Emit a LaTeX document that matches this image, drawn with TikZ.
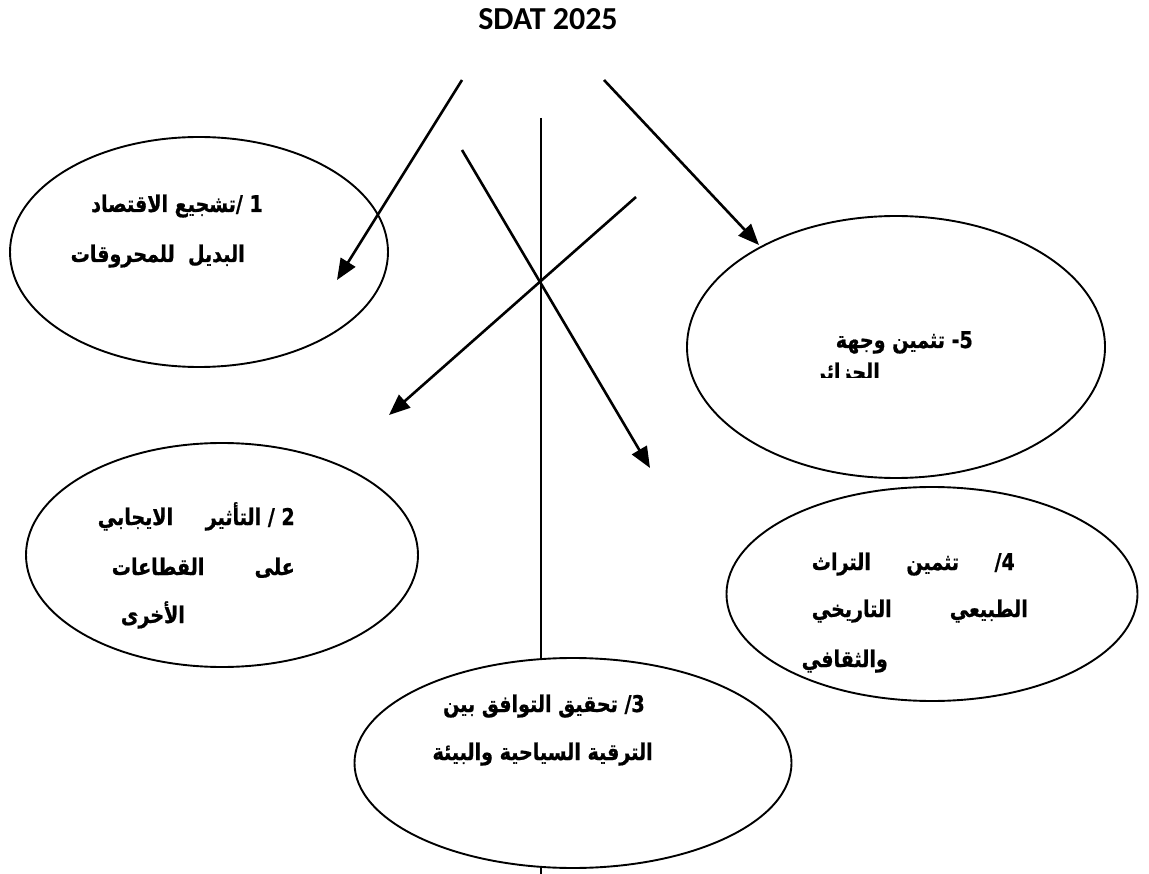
\documentclass[tikz,border=0pt]{standalone}
\usepackage{fontspec}
\usepackage{tikz}
\usetikzlibrary{shapes.geometric,arrows.meta}
\TeXXeTstate=1
\newfontfamily\arabicfont[Script=Arabic,FakeStretch=0.83,BoldFeatures={FakeBold=0.8}]{DejaVu Sans}
\newfontfamily\titlefont{Carlito}
\newcommand\brk{\kern0pt}
\tikzset{
    goal/.style={ellipse, draw, line width=1.9pt, fill=white, inner sep=0pt},
    arline/.style={anchor=base east, inner sep=0pt, font=\arabicfont\bfseries\fontsize{23}{26}\selectfont},
    link/.style={line width=2.6pt, -{Triangle[length=21pt,width=17pt]}},
}

\begin{document}
\begin{tikzpicture}[x=1pt,y=-1pt]
    \useasboundingbox (0,0) rectangle (1149,874);
    \node [anchor=base, inner sep=0pt, font=\titlefont\bfseries\fontsize{32}{36}\selectfont] (title) at (548,30) {SDAT 2025};
    \coordinate (axtop) at (541,118);
    \coordinate (axbot) at (541,874);
    \draw [line width=1.7pt] (axtop) -- (axbot);
    \node [goal, minimum width=378pt, minimum height=230pt] (e1) at (199,252) {};
    \node [goal, minimum width=418pt, minimum height=262pt] (e5) at (896,347) {};
    \node [goal, minimum width=392pt, minimum height=224pt] (e2) at (222,555) {};
    \node [goal, minimum width=411pt, minimum height=214pt] (e4) at (932,594) {};
    \node [goal, minimum width=437pt, minimum height=210pt] (e3) at (573,763) {};
    \coordinate (a1s) at (462,80);
    \coordinate (a1e) at (337,280);
    \coordinate (a2s) at (604,80);
    \coordinate (a2e) at (759,245);
    \coordinate (a3s) at (462,150);
    \coordinate (a3e) at (650,468);
    \coordinate (a4s) at (636,197);
    \coordinate (a4e) at (389,415);
    \draw [link] (a1s) -- (a1e);
    \draw [link] (a2s) -- (a2e);
    \draw [link] (a3s) -- (a3e);
    \draw [link] (a4s) -- (a4e);
    \node [arline] (t1a) at (263,212) {\beginR 1 /\brk تشجيع الاقتصاد\endR};
    \node [arline] (t1b) at (245,262) {\beginR البديل \ للمحروقات\endR};
    \node [arline] (t5a) at (973,348) {\beginR 5\brk- تثمين وجهة\endR};
    \begin{scope}
        \clip (800,355) rectangle (900,378);
        \node [arline] (t5b) at (880,380) {\beginR الجزائر\endR};
    \end{scope}
    \node [arline] (t2a) at (295,525) {\hbox to 197pt{\beginR 2 / التأثير\hfill الايجابي\endR}};
    \node [arline] (t2b) at (295,575) {\hbox to 183pt{\beginR على\hfill القطاعات\endR}};
    \node [arline] (t2c) at (185,623) {\beginR الأخرى\endR};
    \node [arline] (t4a) at (1015,570) {\hbox to 203pt{\beginR 4\brk/\hfill تثمين\hfill التراث\endR}};
    \node [arline] (t4b) at (1028,617) {\hbox to 216pt{\beginR الطبيعي\hfill التاريخي\endR}};
    \node [arline] (t4c) at (888,667) {\beginR والثقافي\endR};
    \node [arline] (t3a) at (645,712) {\beginR 3\brk/ تحقيق التوافق بين\endR};
    \node [arline] (t3b) at (653,760) {\beginR الترقية السياحية والبيئة\endR};
\end{tikzpicture}
\end{document}
